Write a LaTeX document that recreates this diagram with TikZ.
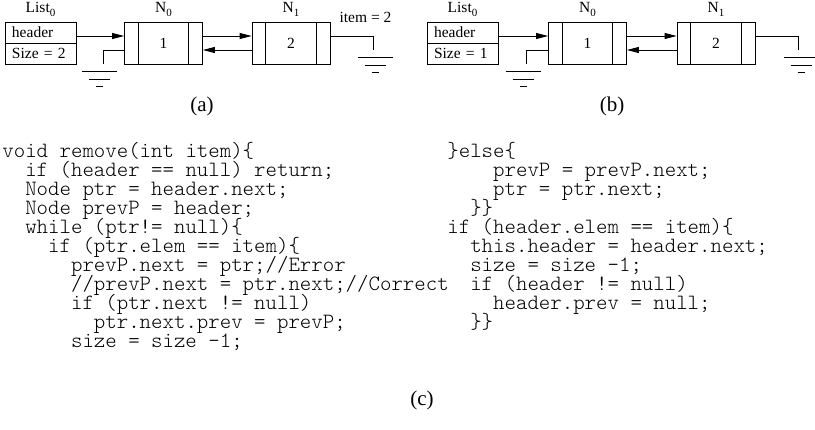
\documentclass[tikz,border=0pt]{standalone}
\usepackage{fontspec}
\setmainfont{Liberation Serif}
\setmonofont{Latin Modern Mono Light}
\usetikzlibrary{arrows.meta, positioning, calc}

\newcommand{\cind}[1]{\hspace*{#1\dimexpr0.525em\relax}}
\newcommand{\lsub}[1]{\raisebox{-4pt}{\fontsize{11}{11}\selectfont #1}}
\newcommand{\tightlines}{\lineskiplimit=-100pt\relax}

\tikzset{
    lbl/.style={font=\fontsize{15.5}{18}\selectfont},
    nbox/.style={draw, minimum width=78pt, minimum height=42pt, inner sep=0pt, lbl},
    lbox/.style={draw, text width=57pt, inner xsep=7pt, inner ysep=0pt, minimum height=21pt, align=left, lbl},
    arr/.style={-{Triangle[length=12pt, width=6pt]}},
    code/.style={align=left, inner sep=0pt, font=\ttfamily\fontsize{21.8}{19}\selectfont\tightlines},
    captext/.style={font=\fontsize{21}{24}\selectfont},
    pics/gnd/.style={code={
        \draw (-17.5,7.5) -- (17.5,7.5) (-10.5,15) -- (10.5,15) (-3.5,22.5) -- (3.5,22.5);
    }},
}

\begin{document}
\begin{tikzpicture}[x=1pt, y=-1pt, line width=0.8pt]
    \useasboundingbox (0,0) rectangle (815,429);

    % (a)
    \node[lbox] (hdra) at (40.5, 32.5) {header};
    \node[lbox] (sza) at (40.5, 53.5) {Size = 2};
    \node[nbox] (n0a) at (163.5, 43) {1};
    \node[nbox] (n1a) at (291, 43) {2};
    \node[lbl, above=1pt of hdra] (lista) {List\lsub{0}};
    \node[lbl, above=1pt of n0a] (na0) {N\lsub{0}};
    \node[lbl, above=1pt of n1a] (na1) {N\lsub{1}};
    \node[lbl, anchor=base] (itema) at (365.5, 22.5) {item = 2};
    \coordinate (in0a) at ([yshift=7pt]n0a.west);
    \draw[arr] (hdra.east |- in0a) -- (in0a);
    \draw[arr] ([yshift=7pt]n0a.east) -- ([yshift=7pt]n1a.west);
    \draw[arr] ([yshift=-7pt]n1a.west) -- ([yshift=-7pt]n0a.east);
    \draw ([yshift=-7pt]n0a.west) -| ++(-21,14) coordinate (ga0);
    \draw ([yshift=7pt]n1a.east) -| ++(43,14) coordinate (ga1);
    \pic at ([xshift=-3.5pt]ga0) {gnd};
    \pic at ([xshift=2.5pt]ga1) {gnd};
    \node[captext] (capa) at (202, 106) {(a)};

    % (b)
    \node[lbox] (hdrb) at (462.5, 32.5) {header};
    \node[lbox] (szb) at (462.5, 53.5) {Size = 1};
    \node[nbox] (n0b) at (587.5, 43) {1};
    \node[nbox] (n1b) at (716, 43) {2};
    \node[lbl, above=1pt of hdrb] (listb) {List\lsub{0}};
    \node[lbl, above=1pt of n0b] (nb0) {N\lsub{0}};
    \node[lbl, above=1pt of n1b] (nb1) {N\lsub{1}};
    \coordinate (in0b) at ([yshift=7pt]n0b.west);
    \draw[arr] (hdrb.east |- in0b) -- (in0b);
    \draw[arr] ([yshift=7pt]n0b.east) -- ([yshift=7pt]n1b.west);
    \draw[arr] ([yshift=-7pt]n1b.west) -- ([yshift=-7pt]n0b.east);
    \draw ([yshift=-7pt]n0b.west) -| ++(-22,14) coordinate (gb0);
    \draw ([yshift=7pt]n1b.east) -| ++(43,14) coordinate (gb1);
    \pic at ([xshift=-3pt]gb0) {gnd};
    \pic at ([xshift=2.7pt]gb1) {gnd};
    \node[captext] (capb) at (612, 106) {(b)};

    % box compartments
    \foreach \n in {n0a, n1a, n0b, n1b} {
        \draw[line width=1.1pt] ([xshift=14pt]\n.north west) -- ([xshift=14pt]\n.south west);
        \draw[line width=1.1pt] ([xshift=-14pt]\n.north east) -- ([xshift=-14pt]\n.south east);
    }

    % (c), placed by the baseline of the last line
    \node[code, anchor=base west] (codel) at (2, 347) {%
        void remove(int item)\{\\
        \cind{2}if (header == null) return;\\
        \cind{2}Node ptr = header.next;\\
        \cind{2}Node prevP = header;\\
        \cind{2}while (ptr!= null)\{\\
        \cind{4}if (ptr.elem == item)\{\\
        \cind{6}prevP.next = ptr;//Error\\
        \cind{6}//prevP.next = ptr.next;//Correct\\
        \cind{6}if (ptr.next != null)\\
        \cind{8}ptr.next.prev = prevP;\\
        \cind{6}size = size -1;};
    \node[code, anchor=base west] (coder) at (447, 328) {%
        \}else\{\\
        \cind{4}prevP = prevP.next;\\
        \cind{4}ptr = ptr.next;\\
        \cind{2}\}\}\\
        if (header.elem == item)\{\\
        \cind{2}this.header = header.next;\\
        \cind{2}size = size -1;\\
        \cind{2}if (header != null)\\
        \cind{4}header.prev = null;\\
        \cind{2}\}\}};
    \node[captext] (capc) at (422, 400) {(c)};
\end{tikzpicture}
\end{document}
